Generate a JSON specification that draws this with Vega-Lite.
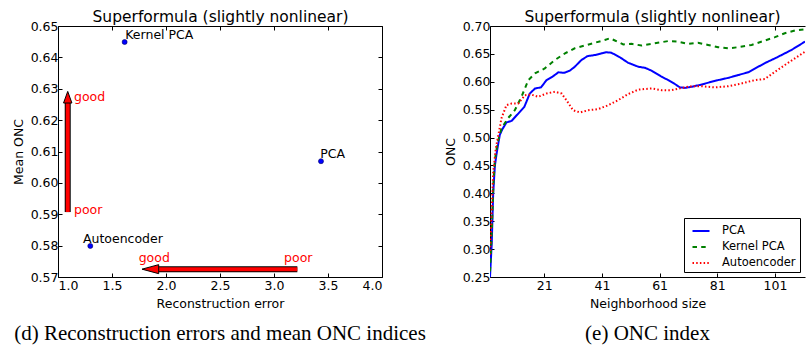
{
  "$schema": "https://vega.github.io/schema/vega-lite/v6.json",
  "padding": {"left": 12, "top": 9, "right": 0, "bottom": 2},
  "bounds": "flush",
  "spacing": 108,
  "resolve": {"scale": {"color": "independent", "strokeDash": "independent"}, "legend": {"color": "independent", "strokeDash": "independent"}},
  "config": {
    "font": "DejaVu Sans",
    "view": {"stroke": null},
    "axis": {"grid": false, "labelOverlap": false, "labelFont": "DejaVu Sans", "titleFont": "DejaVu Sans", "labelFontSize": 12.5, "titleFontSize": 12.5, "titleFontWeight": "normal", "labelColor": "black", "titleColor": "black", "domainColor": "black", "tickColor": "black", "tickSize": -4, "labelPadding": 4, "domainWidth": 1, "tickWidth": 1},
    "title": {"fontWeight": "normal", "color": "black"}
  },
  "datasets": {
    "pts": [
      {"err": 1.617, "onc": 0.6449, "name": "Kernel PCA"},
      {"err": 3.435, "onc": 0.6069, "name": "PCA"},
      {"err": 1.299, "onc": 0.5799, "name": "Autoencoder"}
    ],
    "labels": [
      {"lx": 1.623, "ly": 0.6460, "name": "Kernel PCA"},
      {"lx": 3.429, "ly": 0.6079, "name": "PCA"},
      {"lx": 1.231, "ly": 0.5808, "name": "Autoencoder"}
    ],
    "arrows": [
      {"x": 1.09, "x2": 1.09, "y": 0.5907, "y2": 0.6258},
      {"x": 3.216, "x2": 1.92, "y": 0.5725, "y2": 0.5725}
    ],
    "headUp": [{"x": 1.09, "y": 0.6273}],
    "headLeft": [{"x": 1.855, "y": 0.5725}],
    "words": [
      {"x": 1.148, "y": 0.6260, "t": "good"},
      {"x": 1.148, "y": 0.5901, "t": "poor"},
      {"x": 1.747, "y": 0.5748, "t": "good"},
      {"x": 3.093, "y": 0.5748, "t": "poor"}
    ],
    "onc": [
      {"m": "PCA", "n": 2.2, "v": 0.25},
      {"m": "PCA", "n": 2.8, "v": 0.31},
      {"m": "PCA", "n": 3.3, "v": 0.40},
      {"m": "PCA", "n": 3.9, "v": 0.45},
      {"m": "PCA", "n": 4.6, "v": 0.475},
      {"m": "PCA", "n": 5.6, "v": 0.505},
      {"m": "PCA", "n": 6.5, "v": 0.515},
      {"m": "PCA", "n": 7.9, "v": 0.527},
      {"m": "PCA", "n": 9.7, "v": 0.530},
      {"m": "PCA", "n": 12, "v": 0.543},
      {"m": "PCA", "n": 14.1, "v": 0.555},
      {"m": "PCA", "n": 16, "v": 0.579},
      {"m": "PCA", "n": 17.8, "v": 0.588},
      {"m": "PCA", "n": 19.9, "v": 0.590},
      {"m": "PCA", "n": 21.8, "v": 0.603},
      {"m": "PCA", "n": 24.1, "v": 0.610},
      {"m": "PCA", "n": 25.9, "v": 0.617},
      {"m": "PCA", "n": 27.9, "v": 0.616},
      {"m": "PCA", "n": 29.9, "v": 0.620},
      {"m": "PCA", "n": 31.6, "v": 0.627},
      {"m": "PCA", "n": 33.9, "v": 0.639},
      {"m": "PCA", "n": 36, "v": 0.646},
      {"m": "PCA", "n": 38.6, "v": 0.648},
      {"m": "PCA", "n": 40.9, "v": 0.651},
      {"m": "PCA", "n": 42.6, "v": 0.653},
      {"m": "PCA", "n": 44.3, "v": 0.652},
      {"m": "PCA", "n": 47.2, "v": 0.644},
      {"m": "PCA", "n": 50.1, "v": 0.634},
      {"m": "PCA", "n": 53.6, "v": 0.627},
      {"m": "PCA", "n": 55.9, "v": 0.625},
      {"m": "PCA", "n": 58.2, "v": 0.620},
      {"m": "PCA", "n": 61.7, "v": 0.609},
      {"m": "PCA", "n": 64, "v": 0.603},
      {"m": "PCA", "n": 66.3, "v": 0.596},
      {"m": "PCA", "n": 68, "v": 0.590},
      {"m": "PCA", "n": 69.8, "v": 0.589},
      {"m": "PCA", "n": 72.1, "v": 0.591},
      {"m": "PCA", "n": 75.5, "v": 0.595},
      {"m": "PCA", "n": 79, "v": 0.600},
      {"m": "PCA", "n": 81.3, "v": 0.603},
      {"m": "PCA", "n": 84.8, "v": 0.607},
      {"m": "PCA", "n": 88.2, "v": 0.612},
      {"m": "PCA", "n": 91.7, "v": 0.617},
      {"m": "PCA", "n": 95.2, "v": 0.627},
      {"m": "PCA", "n": 98.1, "v": 0.635},
      {"m": "PCA", "n": 101, "v": 0.642},
      {"m": "PCA", "n": 103.3, "v": 0.648},
      {"m": "PCA", "n": 106.7, "v": 0.657},
      {"m": "PCA", "n": 111.4, "v": 0.672},
      {"m": "Kernel PCA", "n": 2.2, "v": 0.26},
      {"m": "Kernel PCA", "n": 2.8, "v": 0.33},
      {"m": "Kernel PCA", "n": 3.4, "v": 0.42},
      {"m": "Kernel PCA", "n": 3.9, "v": 0.46},
      {"m": "Kernel PCA", "n": 4.8, "v": 0.49},
      {"m": "Kernel PCA", "n": 6.2, "v": 0.517},
      {"m": "Kernel PCA", "n": 8.5, "v": 0.535},
      {"m": "Kernel PCA", "n": 10.8, "v": 0.549},
      {"m": "Kernel PCA", "n": 13.1, "v": 0.573},
      {"m": "Kernel PCA", "n": 15.5, "v": 0.603},
      {"m": "Kernel PCA", "n": 17.8, "v": 0.615},
      {"m": "Kernel PCA", "n": 21.2, "v": 0.624},
      {"m": "Kernel PCA", "n": 24.7, "v": 0.639},
      {"m": "Kernel PCA", "n": 28.2, "v": 0.651},
      {"m": "Kernel PCA", "n": 31.6, "v": 0.660},
      {"m": "Kernel PCA", "n": 35.1, "v": 0.665},
      {"m": "Kernel PCA", "n": 38.6, "v": 0.670},
      {"m": "Kernel PCA", "n": 42, "v": 0.675},
      {"m": "Kernel PCA", "n": 43.8, "v": 0.678},
      {"m": "Kernel PCA", "n": 45.5, "v": 0.674},
      {"m": "Kernel PCA", "n": 48.4, "v": 0.667},
      {"m": "Kernel PCA", "n": 51.3, "v": 0.668},
      {"m": "Kernel PCA", "n": 54.7, "v": 0.665},
      {"m": "Kernel PCA", "n": 58.2, "v": 0.668},
      {"m": "Kernel PCA", "n": 61.7, "v": 0.671},
      {"m": "Kernel PCA", "n": 64, "v": 0.673},
      {"m": "Kernel PCA", "n": 67.4, "v": 0.672},
      {"m": "Kernel PCA", "n": 70.9, "v": 0.668},
      {"m": "Kernel PCA", "n": 74.3, "v": 0.670},
      {"m": "Kernel PCA", "n": 77.8, "v": 0.666},
      {"m": "Kernel PCA", "n": 81.3, "v": 0.662},
      {"m": "Kernel PCA", "n": 84.8, "v": 0.660},
      {"m": "Kernel PCA", "n": 88.2, "v": 0.662},
      {"m": "Kernel PCA", "n": 92.9, "v": 0.666},
      {"m": "Kernel PCA", "n": 97.5, "v": 0.674},
      {"m": "Kernel PCA", "n": 101, "v": 0.680},
      {"m": "Kernel PCA", "n": 104.4, "v": 0.687},
      {"m": "Kernel PCA", "n": 107.9, "v": 0.692},
      {"m": "Kernel PCA", "n": 111.4, "v": 0.694},
      {"m": "Autoencoder", "n": 2.2, "v": 0.29},
      {"m": "Autoencoder", "n": 2.8, "v": 0.37},
      {"m": "Autoencoder", "n": 3.3, "v": 0.436},
      {"m": "Autoencoder", "n": 4.2, "v": 0.48},
      {"m": "Autoencoder", "n": 5.1, "v": 0.505},
      {"m": "Autoencoder", "n": 6.2, "v": 0.535},
      {"m": "Autoencoder", "n": 7.9, "v": 0.558},
      {"m": "Autoencoder", "n": 9.7, "v": 0.561},
      {"m": "Autoencoder", "n": 12, "v": 0.561},
      {"m": "Autoencoder", "n": 14.3, "v": 0.576},
      {"m": "Autoencoder", "n": 16.6, "v": 0.577},
      {"m": "Autoencoder", "n": 18.9, "v": 0.573},
      {"m": "Autoencoder", "n": 21.8, "v": 0.579},
      {"m": "Autoencoder", "n": 24.7, "v": 0.582},
      {"m": "Autoencoder", "n": 27, "v": 0.579},
      {"m": "Autoencoder", "n": 28.7, "v": 0.567},
      {"m": "Autoencoder", "n": 31, "v": 0.549},
      {"m": "Autoencoder", "n": 33.4, "v": 0.545},
      {"m": "Autoencoder", "n": 36.3, "v": 0.549},
      {"m": "Autoencoder", "n": 39.7, "v": 0.551},
      {"m": "Autoencoder", "n": 43.2, "v": 0.558},
      {"m": "Autoencoder", "n": 46.6, "v": 0.567},
      {"m": "Autoencoder", "n": 50.1, "v": 0.578},
      {"m": "Autoencoder", "n": 53.6, "v": 0.586},
      {"m": "Autoencoder", "n": 58.2, "v": 0.588},
      {"m": "Autoencoder", "n": 61.7, "v": 0.585},
      {"m": "Autoencoder", "n": 65.2, "v": 0.585},
      {"m": "Autoencoder", "n": 68.6, "v": 0.589},
      {"m": "Autoencoder", "n": 72.1, "v": 0.592},
      {"m": "Autoencoder", "n": 75.5, "v": 0.592},
      {"m": "Autoencoder", "n": 80.1, "v": 0.590},
      {"m": "Autoencoder", "n": 84.8, "v": 0.592},
      {"m": "Autoencoder", "n": 89.4, "v": 0.597},
      {"m": "Autoencoder", "n": 94, "v": 0.603},
      {"m": "Autoencoder", "n": 97.5, "v": 0.605},
      {"m": "Autoencoder", "n": 101, "v": 0.618},
      {"m": "Autoencoder", "n": 104.4, "v": 0.630},
      {"m": "Autoencoder", "n": 107.9, "v": 0.642},
      {"m": "Autoencoder", "n": 111.4, "v": 0.654}
    ]
  },
  "hconcat": [
    {
      "width": 324,
      "height": 251,
      "title": {"text": "(d) Reconstruction errors and mean ONC indices", "orient": "bottom", "font": "Liberation Serif", "fontSize": 21, "anchor": "middle", "offset": 13},
      "resolve": {"axis": {"x": "independent", "y": "independent"}},
      "layer": [
        {
          "data": {"name": "arrows"},
          "mark": {"type": "rule", "color": "black", "strokeWidth": 6, "strokeCap": "butt"},
          "encoding": {
            "x": {"field": "x", "type": "quantitative", "scale": {"domain": [1, 4], "nice": false, "zero": false}, "axis": {"values": [1, 1.5, 2, 2.5, 3, 3.5, 4], "format": ".1f", "title": "Reconstruction error", "titlePadding": 6, "labelPadding": 6, "labelOverlap": false}},
            "x2": {"field": "x2"},
            "y": {"field": "y", "type": "quantitative", "scale": {"domain": [0.57, 0.65], "nice": false, "zero": false}, "axis": {"values": [0.57, 0.58, 0.59, 0.6, 0.61, 0.62, 0.63, 0.64, 0.65], "format": ".2f", "title": "Mean ONC", "titlePadding": 5, "labelOverlap": false, "tickCount": 9}},
            "y2": {"field": "y2"}
          }
        },
        {
          "data": {"name": "arrows"},
          "mark": {"type": "rule", "color": "#ff0000", "strokeWidth": 4, "strokeCap": "butt"},
          "encoding": {
            "x": {"field": "x", "type": "quantitative", "axis": null},
            "x2": {"field": "x2"},
            "y": {"field": "y", "type": "quantitative", "axis": null},
            "y2": {"field": "y2"}
          }
        },
        {
          "data": {"name": "headUp"},
          "mark": {"type": "point", "shape": "M0,-1L0.72,1L-0.72,1Z", "size": 135, "filled": true, "fill": "#ff0000", "stroke": "black", "strokeWidth": 1, "opacity": 1},
          "encoding": {
            "x": {"field": "x", "type": "quantitative", "axis": null},
            "y": {"field": "y", "type": "quantitative", "axis": null}
          }
        },
        {
          "data": {"name": "headLeft"},
          "mark": {"type": "point", "shape": "M-1,0L1,-0.54L1,0.54Z", "size": 279, "filled": true, "fill": "#ff0000", "stroke": "black", "strokeWidth": 1, "opacity": 1},
          "encoding": {
            "x": {"field": "x", "type": "quantitative", "axis": null},
            "y": {"field": "y", "type": "quantitative", "axis": null}
          }
        },
        {
          "data": {"name": "pts"},
          "mark": {"type": "circle", "size": 25, "fill": "#0000ff", "stroke": "#000060", "strokeWidth": 0.6, "opacity": 1},
          "encoding": {
            "x": {"field": "err", "type": "quantitative", "axis": {"orient": "top", "labels": false, "values": [1, 1.5, 2, 2.5, 3, 3.5, 4], "title": "Superformula (slightly nonlinear)", "titleFontSize": 15.5, "titlePadding": 1}},
            "y": {"field": "onc", "type": "quantitative", "axis": {"orient": "right", "labels": false, "values": [0.57, 0.58, 0.59, 0.6, 0.61, 0.62, 0.63, 0.64, 0.65], "title": null}}
          }
        },
        {
          "data": {"name": "labels"},
          "mark": {"type": "text", "align": "left", "baseline": "alphabetic", "fontSize": 12.5, "color": "black", "font": "DejaVu Sans"},
          "encoding": {
            "x": {"field": "lx", "type": "quantitative", "axis": null},
            "y": {"field": "ly", "type": "quantitative", "axis": null},
            "text": {"field": "name"}
          }
        },
        {
          "data": {"name": "words"},
          "mark": {"type": "text", "align": "left", "baseline": "alphabetic", "fontSize": 12.5, "color": "#ff0000", "font": "DejaVu Sans"},
          "encoding": {
            "x": {"field": "x", "type": "quantitative", "axis": null},
            "y": {"field": "y", "type": "quantitative", "axis": null},
            "text": {"field": "t"}
          }
        }
      ]
    },
    {
      "width": 315,
      "height": 251,
      "title": {"text": "(e) ONC index", "orient": "bottom", "font": "Liberation Serif", "fontSize": 21, "anchor": "middle", "offset": 13},
      "resolve": {"axis": {"x": "independent", "y": "independent"}},
      "layer": [
        {
          "data": {"name": "onc"},
          "mark": {"type": "line", "strokeWidth": 2, "clip": true},
          "encoding": {
            "x": {"field": "n", "type": "quantitative", "scale": {"domain": [2.2, 111.4], "nice": false, "zero": false}, "axis": {"values": [21, 41, 61, 81, 101], "title": "Neighborhood size", "titlePadding": 6, "labelPadding": 6}},
            "y": {"field": "v", "type": "quantitative", "scale": {"domain": [0.25, 0.70], "nice": false, "zero": false}, "axis": {"values": [0.25, 0.3, 0.35, 0.4, 0.45, 0.5, 0.55, 0.6, 0.65, 0.7], "format": ".2f", "title": "ONC", "titlePadding": 5, "labelOverlap": false}},
            "color": {"field": "m", "type": "nominal", "scale": {"domain": ["PCA", "Kernel PCA", "Autoencoder"], "range": ["#0000ff", "#008000", "#ff0000"]},
              "legend": {"orient": "bottom-right", "offset": 5, "title": null, "strokeColor": "black", "fillColor": "white", "padding": 3.5, "symbolOffset": 4, "symbolType": "stroke", "symbolSize": 289, "symbolStrokeWidth": 2, "labelFontSize": 11.5, "labelFont": "DejaVu Sans", "labelColor": "black", "rowPadding": 1, "labelOffset": 11.5, "cornerRadius": 0}},
            "strokeDash": {"field": "m", "type": "nominal", "scale": {"domain": ["PCA", "Kernel PCA", "Autoencoder"], "range": [[1, 0], [4.5, 4.2], [1.5, 2.2]]},
              "legend": {"orient": "bottom-right", "offset": 5, "title": null, "strokeColor": "black", "fillColor": "white", "padding": 3.5, "symbolOffset": 4, "symbolType": "stroke", "symbolSize": 289, "symbolStrokeWidth": 2, "labelFontSize": 11.5, "labelFont": "DejaVu Sans", "labelColor": "black", "rowPadding": 1, "labelOffset": 11.5, "cornerRadius": 0}}
          }
        },
        {
          "data": {"name": "onc"},
          "mark": {"type": "point", "opacity": 0},
          "encoding": {
            "x": {"field": "n", "type": "quantitative", "axis": {"orient": "top", "labels": false, "values": [21, 41, 61, 81, 101], "title": "Superformula (slightly nonlinear)", "titleFontSize": 15.5, "titlePadding": 1, "titleX": 162}},
            "y": {"field": "v", "type": "quantitative", "axis": null}
          }
        }
      ]
    }
  ]
}
